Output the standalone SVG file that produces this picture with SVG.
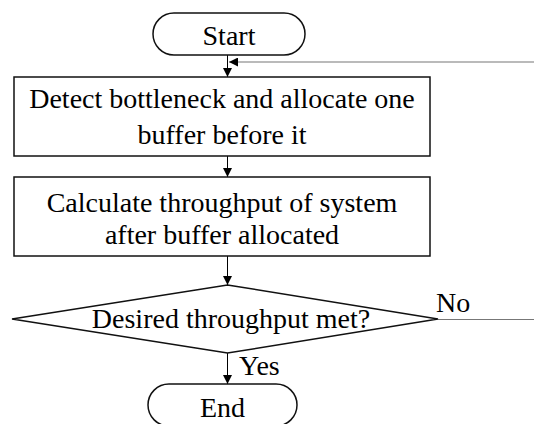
<svg xmlns="http://www.w3.org/2000/svg" width="534" height="424" viewBox="0 0 534 424">
  <defs>
    <marker id="arrow" markerUnits="userSpaceOnUse" markerWidth="9" markerHeight="9" refX="9" refY="4.5" orient="auto">
      <path d="M0,0 L9,4.5 L0,9 z" fill="#000"/>
    </marker>
    <style>
      .shape { fill: #fff; stroke: #111; stroke-width: 1.5; }
      text { font-family: 'Liberation Serif', 'DejaVu Serif', serif; font-size: 28px; fill: #000; }
      .label { text-anchor: middle; }
      .edge { stroke: #000; stroke-width: 1; fill: none; }
      .loop { stroke: #777; stroke-width: 1.2; fill: none; }
    </style>
  </defs>
  <rect width="534" height="424" fill="#fff"/>

  <g id="connectors">
    <line class="edge" x1="227.5" y1="55" x2="227.5" y2="77" marker-end="url(#arrow)"/>
    <line class="loop" x1="534" y1="62" x2="229" y2="62" marker-end="url(#arrow)"/>
    <line class="edge" x1="227.5" y1="156" x2="227.5" y2="177" marker-end="url(#arrow)"/>
    <line class="edge" x1="227.5" y1="256" x2="227.5" y2="285" marker-end="url(#arrow)"/>
    <line class="edge" x1="227.5" y1="353" x2="227.5" y2="384" marker-end="url(#arrow)"/>
    <line class="loop" x1="438" y1="319.5" x2="534" y2="319.5"/>
    <text x="436" y="312">No</text>
    <text x="239" y="375">Yes</text>
  </g>

  <g id="start">
    <rect class="shape" x="153" y="13" width="152" height="42" rx="21" ry="21"/>
    <text class="label" x="229" y="45">Start</text>
  </g>

  <g id="detect">
    <rect class="shape" x="14" y="77" width="416" height="79"/>
    <text class="label" x="222" y="108">Detect bottleneck and allocate one</text>
    <text class="label" x="222" y="144">buffer before it</text>
  </g>

  <g id="calculate">
    <rect class="shape" x="14" y="177" width="416" height="79"/>
    <text class="label" x="222" y="212">Calculate throughput of system</text>
    <text class="label" x="222" y="244">after buffer allocated</text>
  </g>

  <g id="decision">
    <polygon class="shape" points="227.5,285 438,319 227.5,353 12,319"/>
    <text class="label" x="231" y="328">Desired throughput met?</text>
  </g>

  <g id="end">
    <rect class="shape" x="148" y="384" width="149" height="42" rx="21" ry="21"/>
    <text class="label" x="222.5" y="417">End</text>
  </g>
</svg>
